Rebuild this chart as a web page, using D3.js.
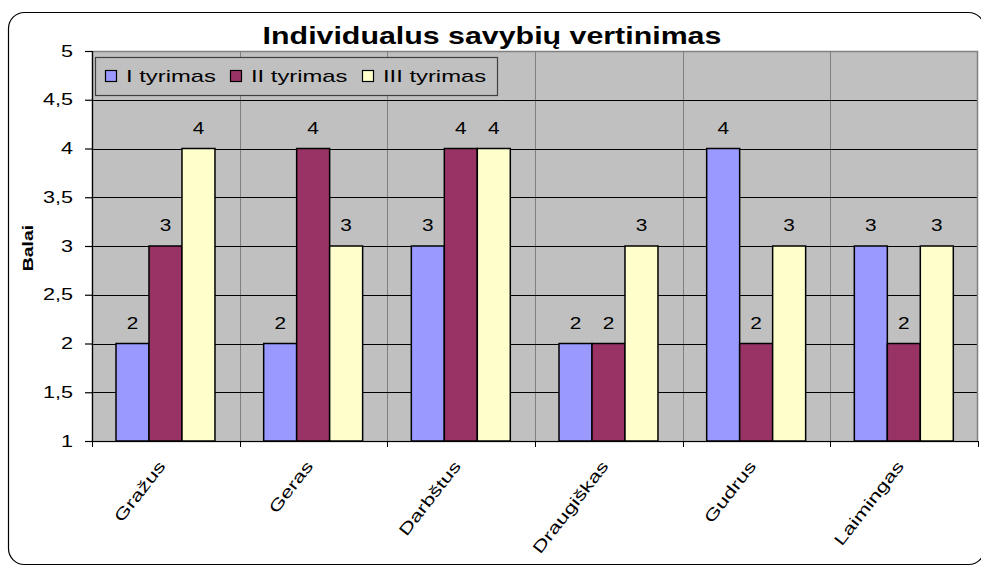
<!DOCTYPE html>
<html>
<head>
<meta charset="utf-8">
<script src="https://cdn.jsdelivr.net/npm/d3@7"></script>
<style>
  body { margin: 0; background: #fff; }
  text { font-family: Arial, "Liberation Sans", sans-serif; }
</style>
</head>
<body>
<div id="chart"></div>
<script>
// chart data
var categories = ["Gražus", "Geras", "Darbštus", "Draugiškas", "Gudrus", "Laimingas"];
var seriesNames = ["I tyrimas", "II tyrimas", "III tyrimas"];
var series1 = [2, 2, 3, 2, 4, 3];
var series2 = [3, 4, 4, 2, 2, 2];
var series3 = [4, 3, 4, 3, 3, 3];
var yTicks = [1, 1.5, 2, 2.5, 3, 3.5, 4, 4.5, 5];
var colors = ["#9999FF", "#993366", "#FFFFCC"];

var W = 981, H = 566;
var margin = {top: 51, right: 3, bottom: 125, left: 92};
var width = W - margin.left - margin.right,
    height = H - margin.top - margin.bottom;

// the original text is drawn a bit wider than plain Arial
var SX = 1.35;

var root = d3.select("#chart")
  .append("svg")
  .attr("width", W)
  .attr("height", H);

// outer rounded frame
root.append("rect")
  .attr("x", 8.5).attr("y", 12.5)
  .attr("width", 976).attr("height", 552)
  .attr("rx", 16).attr("ry", 16)
  .attr("fill", "none")
  .attr("stroke", "#000")
  .attr("stroke-width", 1.2);

// title
root.append("text")
  .attr("transform", "translate(492,44) scale(1.32,1)")
  .attr("text-anchor", "middle")
  .style("font-size", "23px")
  .style("font-weight", "bold")
  .text("Individualus savybių vertinimas");

var svg = root.append("g")
  .attr("transform", "translate(" + margin.left + "," + margin.top + ")");

var x = d3.scaleBand()
  .domain(categories)
  .range([0, width])
  .paddingInner(0)
  .paddingOuter(0);

var xSub = d3.scaleBand()
  .domain(seriesNames)
  .range([24, x.bandwidth() - 24.7]);

var y = d3.scaleLinear()
  .domain([1, 5])
  .range([height, 0]);

// plot area
svg.append("rect")
  .attr("width", width)
  .attr("height", height)
  .attr("fill", "#C0C0C0");

// vertical category separators
svg.selectAll(".vsep")
  .data(categories.slice(1))
  .enter()
  .append("line")
  .attr("x1", function(d) { return Math.round(x(d)) + 0.5; })
  .attr("x2", function(d) { return Math.round(x(d)) + 0.5; })
  .attr("y1", 0)
  .attr("y2", height)
  .attr("stroke", "#808080")
  .attr("stroke-width", 1);

// horizontal gridlines
svg.selectAll(".hgrid")
  .data(yTicks.slice(1, -1))
  .enter()
  .append("line")
  .attr("x1", 0)
  .attr("x2", width)
  .attr("y1", function(d) { return Math.round(y(d)) + 0.5; })
  .attr("y2", function(d) { return Math.round(y(d)) + 0.5; })
  .attr("stroke", "#000")
  .attr("stroke-width", 1);

// plot border
svg.append("rect")
  .attr("x", 0.5).attr("y", 0.5)
  .attr("width", width - 1)
  .attr("height", height)
  .attr("fill", "none")
  .attr("stroke", "#808080")
  .attr("stroke-width", 1.5);

// bars
var table = categories.map(function(c, i) {
  return {cat: c, values: [series1[i], series2[i], series3[i]]};
});

var groups = svg.selectAll(".grp")
  .data(table)
  .enter()
  .append("g")
  .attr("transform", function(d) { return "translate(" + x(d.cat) + ",0)"; });

var bars = groups.selectAll(".bar")
  .data(function(d) {
    return d.values.map(function(v, k) { return {name: seriesNames[k], v: v, k: k}; });
  })
  .enter();

bars.append("rect")
  .attr("x", function(d) { return xSub(d.name); })
  .attr("y", function(d) { return y(d.v); })
  .attr("width", xSub.bandwidth())
  .attr("height", function(d) { return height - y(d.v); })
  .attr("fill", function(d) { return colors[d.k]; })
  .attr("stroke", "#000")
  .attr("stroke-width", 1.5);

bars.append("text")
  .attr("transform", function(d) {
    return "translate(" + (xSub(d.name) + xSub.bandwidth() / 2) + "," + (y(d.v) - 15) + ") scale(1.3,1)";
  })
  .attr("text-anchor", "middle")
  .style("font-size", "16px")
  .text(function(d) { return d.v; });

// y axis
var yAxis = d3.axisLeft(y)
  .tickValues(yTicks)
  .tickSize(7)
  .tickPadding(11)
  .tickFormat(function(d) { return String(d).replace(".", ","); });

svg.append("g")
  .attr("class", "y axis")
  .call(yAxis)
  .call(function(g) {
    g.select(".domain").attr("stroke", "#000").attr("stroke-width", 1.2);
    g.selectAll("line").attr("stroke", "#000").attr("stroke-width", 1.2);
    g.selectAll("text")
      .attr("x", -19 / SX)
      .attr("transform", "scale(" + SX + ",1)")
      .style("font-size", "16px")
      .style("font-family", "Arial, 'Liberation Sans', sans-serif")
      .attr("fill", "#000");
  });

// x axis (ticks at category boundaries)
var xAxisG = svg.append("g")
  .attr("class", "x axis")
  .attr("transform", "translate(0," + height + ")");

xAxisG.append("line")
  .attr("x1", 0).attr("x2", width)
  .attr("y1", 0.5).attr("y2", 0.5)
  .attr("stroke", "#000")
  .attr("stroke-width", 1.2);

xAxisG.selectAll(".xtick")
  .data(categories.concat(["end"]))
  .enter()
  .append("line")
  .attr("x1", function(d, i) { return Math.round(i * x.bandwidth()) + 0.5; })
  .attr("x2", function(d, i) { return Math.round(i * x.bandwidth()) + 0.5; })
  .attr("y1", 0)
  .attr("y2", 6)
  .attr("stroke", "#000")
  .attr("stroke-width", 1);

xAxisG.selectAll(".xlabel")
  .data(categories)
  .enter()
  .append("text")
  .attr("transform", function(d) {
    return "translate(" + (x(d) + x.bandwidth() / 2 - 4) + ",22) rotate(-52) scale(1.4,1)";
  })
  .attr("text-anchor", "end")
  .attr("dy", "0.35em")
  .style("font-size", "16px")
  .text(function(d) { return d; });

// y axis title
root.append("text")
  .attr("transform", "translate(33,248) rotate(-90) scale(1.3,1)")
  .attr("text-anchor", "middle")
  .style("font-size", "15px")
  .style("font-weight", "bold")
  .text("Balai");

// legend
var legend = svg.append("g")
  .attr("transform", "translate(3,6)");

legend.append("rect")
  .attr("x", 0.5).attr("y", 0.5)
  .attr("width", 402)
  .attr("height", 38)
  .attr("fill", "#C0C0C0")
  .attr("stroke", "#404040")
  .attr("stroke-width", 1.2);

var legendX = [10, 135, 267];
var items = legend.selectAll(".item")
  .data(seriesNames)
  .enter()
  .append("g")
  .attr("transform", function(d, i) { return "translate(" + legendX[i] + ",0)"; });

items.append("rect")
  .attr("x", 0.5).attr("y", 13.5)
  .attr("width", 11).attr("height", 11)
  .attr("fill", function(d, i) { return colors[i]; })
  .attr("stroke", "#000")
  .attr("stroke-width", 1.2);

items.append("text")
  .attr("transform", "translate(21,25) scale(1.4,1)")
  .style("font-size", "17px")
  .text(function(d) { return d; });
</script>
</body>
</html>
